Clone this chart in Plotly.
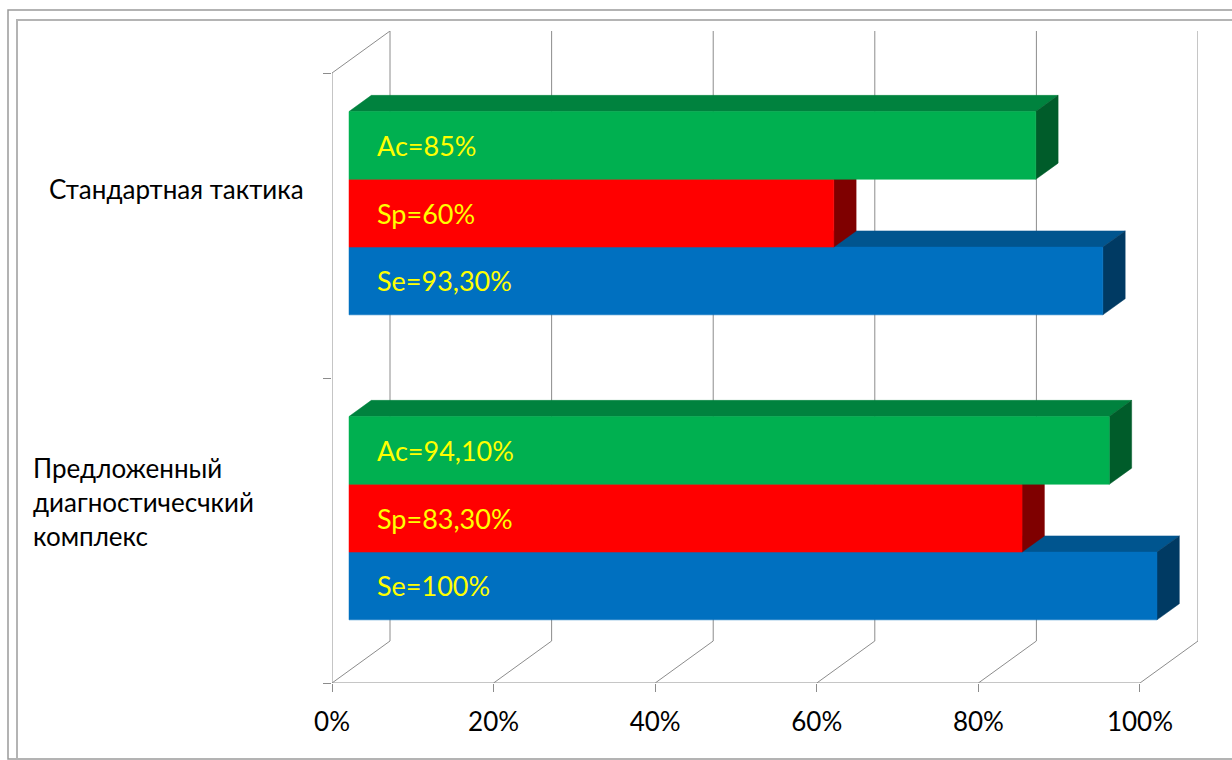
import plotly.graph_objects as go

# ---------------- data ----------------
categories = ["Предложенный<br>диагностичесчкий<br>комплекс", "Стандартная тактика"]  # bottom -> top
series_names = ["Se", "Sp", "Ac"]                    # bottom -> top inside a group
se_values = [100.0, 93.3]
sp_values = [83.3, 60.0]
ac_values = [94.1, 85.0]
tick_values = [0, 20, 40, 60, 80, 100]
tick_labels = [f"{t}%" for t in tick_values]

# ---------------- styles ----------------
front_colors = {"Se": "#0070C0", "Sp": "#FF0000", "Ac": "#00B050"}
top_colors = {"Se": "#00558F", "Sp": "#C00000", "Ac": "#00823E"}
side_colors = {"Se": "#003A63", "Sp": "#7F0000", "Ac": "#005C2A"}
GRID = "#8C8C8C"
FONT = "Lato, 'Open Sans', sans-serif"

# oblique projection (depth offsets in data units)
DX = 7.18          # % units for full depth
DY = 0.1377        # category units for full depth
D0 = 0.293         # bar front depth fraction
DB = 0.385         # bar depth fraction
BAND = 2.0 / 3.0   # fraction of a category occupied by the bars
BW = BAND / 3.0

values = {"Se": se_values, "Sp": sp_values, "Ac": ac_values}


def fmt(v):
    if abs(v - round(v)) < 1e-9:
        return f"{int(round(v))}%"
    return f"{v:.2f}".replace(".", ",") + "%"


fig = go.Figure()


def add_poly(xs, ys, color, name):
    fig.add_trace(go.Scatter(x=xs, y=ys, mode="lines", fill="toself", fillcolor=color,
                             line=dict(color=color, width=0.5), hoverinfo="skip",
                             showlegend=False, name=name))


def add_lines(xs, ys):
    fig.add_trace(go.Scatter(x=xs, y=ys, mode="lines", line=dict(color=GRID, width=1),
                             hoverinfo="skip", showlegend=False))


# ---------- walls and grid ----------
gx, gy = [], []
for t in tick_values:
    # back wall vertical
    gx += [t + DX, t + DX, None]
    gy += [DY, len(categories) + DY, None]
    # floor diagonal
    gx += [t, t + DX, None]
    gy += [0, DY, None]
# floor front edge
gx += [0, tick_values[-1], None]
gy += [0, 0, None]
# left wall front edge and top diagonal
gx += [0, 0, DX, None]
gy += [0, len(categories), len(categories) + DY, None]
add_lines(gx, gy)

# ---------- 3D bars ----------
ox0, oy0 = D0 * DX, D0 * DY
odx, ody = DB * DX, DB * DY
annotations = []
for si, s in enumerate(series_names):
    tx, ty, sx, sy, fx, fy = [], [], [], [], [], []
    for ci in range(len(categories)):
        v = values[s][ci]
        yb = ci + 0.5 - BAND / 2 + si * BW + oy0
        yt = yb + BW
        xl = ox0
        xr = v + ox0
        # front face
        fx += [xl, xr, xr, xl, xl, None]
        fy += [yb, yb, yt, yt, yb, None]
        # top face
        tx += [xl, xr, xr + odx, xl + odx, xl, None]
        ty += [yt, yt, yt + ody, yt + ody, yt, None]
        # side face
        sx += [xr, xr + odx, xr + odx, xr, xr, None]
        sy += [yb, yb + ody, yt + ody, yt, yb, None]
        annotations.append(dict(x=ox0 + 3.2, y=(yb + yt) / 2, xref="x", yref="y",
                                text=f"{s}={fmt(v)}", showarrow=False, xanchor="left",
                                yanchor="middle",
                                font=dict(family=FONT, size=27, color="#FFFF00")))
    add_poly(tx, ty, top_colors[s], s + " top")
    add_poly(sx, sy, side_colors[s], s + " side")
    add_poly(fx, fy, front_colors[s], s)

# ---------- category labels ----------
PLOT_L, PLOT_R, PLOT_T, PLOT_B = 332, 1198, 31, 683
PW, PH = PLOT_R - PLOT_L, PLOT_B - PLOT_T


def px_x(p):
    return (p - PLOT_L) / PW


def px_y(p):
    return (PLOT_B - p) / PH


label_left_px = [31, 47]
label_dy = [0.095, 0.12]
for ci, cat in enumerate(categories):
    annotations.append(dict(x=px_x(label_left_px[ci]), y=ci + 0.5 + label_dy[ci], xref="paper", yref="y",
                            text=cat, showarrow=False, xanchor="left", yanchor="middle",
                            align="left",
                            font=dict(family=FONT, size=26, color="#000000")))

shapes = [
    dict(type="rect", xref="paper", yref="paper", x0=px_x(8), x1=px_x(1260),
         y0=px_y(759), y1=px_y(10), line=dict(color="#9A9A9A", width=1.5)),
    dict(type="rect", xref="paper", yref="paper", x0=px_x(17), x1=px_x(1260),
         y0=px_y(790), y1=px_y(20), line=dict(color="#B4B4B4", width=2)),
]

fig.update_layout(
    width=1232, height=760,
    margin=dict(l=PLOT_L, r=1232 - PLOT_R, t=PLOT_T, b=760 - PLOT_B),
    paper_bgcolor="white", plot_bgcolor="white",
    showlegend=False,
    annotations=annotations,
    shapes=shapes,
    xaxis=dict(range=[0, tick_values[-1] + DX], tickmode="array", tickvals=tick_values,
               ticktext=tick_labels,
               showgrid=False, zeroline=False, showline=False,
               ticks="outside", ticklen=8, tickcolor=GRID, tickwidth=1,
               ticklabelstandoff=8,
               tickfont=dict(family=FONT, size=26, color="#000000"), fixedrange=True),
    yaxis=dict(range=[0, len(categories) + DY], tickvals=[0, 1, 2], showticklabels=False,
               showgrid=False, zeroline=False, showline=False,
               ticks="outside", ticklen=8, tickcolor=GRID, tickwidth=1, fixedrange=True),
)

fig.write_html("out.html")
